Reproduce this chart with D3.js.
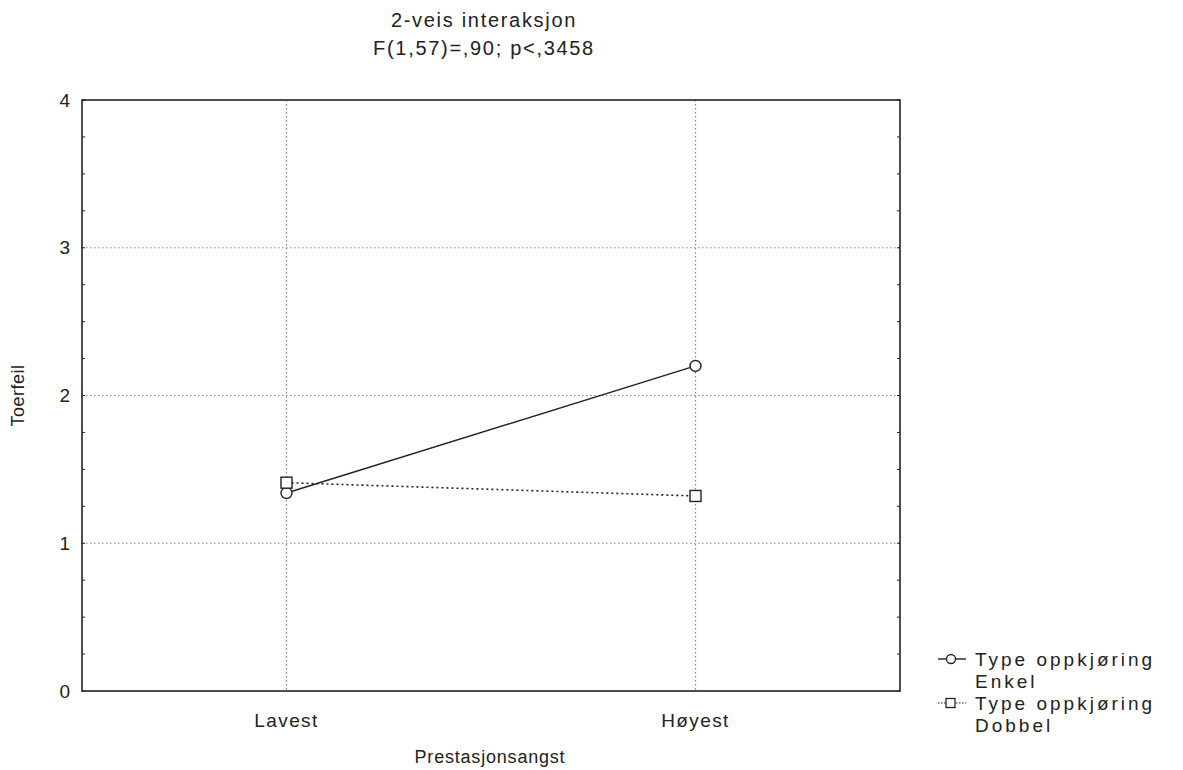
<!DOCTYPE html>
<html><head><meta charset="utf-8">
<script src="https://cdn.jsdelivr.net/npm/d3@7"></script>
<style>body{margin:0;background:#fff}svg text{font-family:"Liberation Sans",Arial,sans-serif;fill:#222}</style>
</head><body><svg id="c" width="1183" height="770"></svg>
<script>
const categories = ["Lavest", "Høyest"];
const enkel = [1.34, 2.20];
const dobbel = [1.41, 1.32];
const yTicks = [0, 1, 2, 3, 4];
const seriesNames = ["Type oppkjøring\nEnkel", "Type oppkjøring\nDobbel"];
const title = ["2-veis interaksjon", "F(1,57)=,90; p<,3458"];

const svg = d3.select("#c");
const L = 82, R = 900, T = 100, B = 691;
const x = d3.scaleLinear().domain([-0.5, 1.5]).range([L, R]);
const y = d3.scaleLinear().domain([0, 4]).range([B, T]);
const ink = "#222";

// grid
svg.append("g").selectAll("line").data([1,2,3]).join("line")
  .attr("x1", L).attr("x2", R).attr("y1", d=>y(d)).attr("y2", d=>y(d))
  .attr("stroke", "#888").attr("stroke-width", 1.2).attr("stroke-dasharray", "1.5,2.5");
svg.append("g").selectAll("line").data(categories).join("line")
  .attr("x1", (d,i)=>x(i)).attr("x2", (d,i)=>x(i)).attr("y1", T).attr("y2", B)
  .attr("stroke", "#888").attr("stroke-width", 1.2).attr("stroke-dasharray", "1.5,2.5");

// minor ticks
const minor = d3.range(0, 4.001, 0.25);
svg.append("g").selectAll("line").data(minor).join("line")
  .attr("x1", L).attr("x2", L+3).attr("y1", d=>y(d)).attr("y2", d=>y(d)).attr("stroke", ink);
svg.append("g").selectAll("line").data(minor).join("line")
  .attr("x1", R-3).attr("x2", R).attr("y1", d=>y(d)).attr("y2", d=>y(d)).attr("stroke", ink);

// frame
svg.append("rect").attr("x", L).attr("y", T).attr("width", R-L).attr("height", B-T)
  .attr("fill", "none").attr("stroke", ink).attr("stroke-width", 1.6);

// y tick labels
svg.append("g").selectAll("text").data(yTicks).join("text")
  .attr("x", L-12).attr("y", d=>y(d)).attr("dy", "0.35em").attr("text-anchor", "end")
  .attr("font-size", 19).text(d=>d);
// x tick labels
svg.append("g").selectAll("text").data(categories).join("text")
  .attr("x", (d,i)=>x(i)).attr("y", 720).attr("dy", "0.35em").attr("text-anchor", "middle")
  .attr("font-size", 19).attr("letter-spacing", "1.4px").text(d=>d);

// axis titles
svg.append("text").attr("transform", `translate(18,${(T+B)/2}) rotate(-90)`)
  .attr("dy", "0.35em").attr("text-anchor", "middle").attr("font-size", 18).attr("letter-spacing", "0.5px").text("Toerfeil");
svg.append("text").attr("x", 490).attr("y", 757).attr("dy", "0.35em").attr("text-anchor", "middle")
  .attr("font-size", 18).attr("letter-spacing", "0.8px").text("Prestasjonsangst");

// title
svg.append("g").selectAll("text").data(title).join("text")
  .attr("x", 484).attr("y", (d,i)=>20+i*28).attr("dy", "0.35em").attr("text-anchor", "middle")
  .attr("font-size", 20).attr("letter-spacing", "1.7px").text(d=>d);

const line = d3.line().x((d,i)=>x(i)).y(d=>y(d));
svg.append("path").datum(dobbel).attr("d", line).attr("fill", "none")
  .attr("stroke", ink).attr("stroke-width", 1.6).attr("stroke-dasharray", "2,3");
svg.append("path").datum(enkel).attr("d", line).attr("fill", "none")
  .attr("stroke", ink).attr("stroke-width", 1.4);

svg.append("g").selectAll("circle").data(enkel).join("circle")
  .attr("cx", (d,i)=>x(i)).attr("cy", d=>y(d)).attr("r", 5.5)
  .attr("fill", "#fff").attr("stroke", ink).attr("stroke-width", 1.4);
svg.append("g").selectAll("rect").data(dobbel).join("rect")
  .attr("x", (d,i)=>x(i)-5.5).attr("y", d=>y(d)-5.5).attr("width", 11).attr("height", 11)
  .attr("fill", "#fff").attr("stroke", ink).attr("stroke-width", 1.4);

// legend
const ly = [659, 703];
const lg = svg.append("g");
lg.append("line").attr("x1", 938).attr("x2", 966).attr("y1", ly[0]).attr("y2", ly[0]).attr("stroke", ink).attr("stroke-width", 1.4);
lg.append("circle").attr("cx", 951).attr("cy", ly[0]).attr("r", 4.5).attr("fill", "#fff").attr("stroke", ink).attr("stroke-width", 1.3);
lg.append("line").attr("x1", 938).attr("x2", 966).attr("y1", ly[1]).attr("y2", ly[1]).attr("stroke", ink).attr("stroke-width", 1.2).attr("stroke-dasharray", "1.5,1.5");
lg.append("rect").attr("x", 946).attr("y", ly[1]-4.5).attr("width", 9).attr("height", 9).attr("fill", "#fff").attr("stroke", ink).attr("stroke-width", 1.3);
seriesNames.forEach((s, k) => {
  s.split("\n").forEach((t, j) => {
    lg.append("text").attr("x", 975).attr("y", ly[k] + j*22).attr("dy", "0.35em")
      .attr("font-size", 19).attr("letter-spacing", "3px").text(t);
  });
});
</script></body></html>
